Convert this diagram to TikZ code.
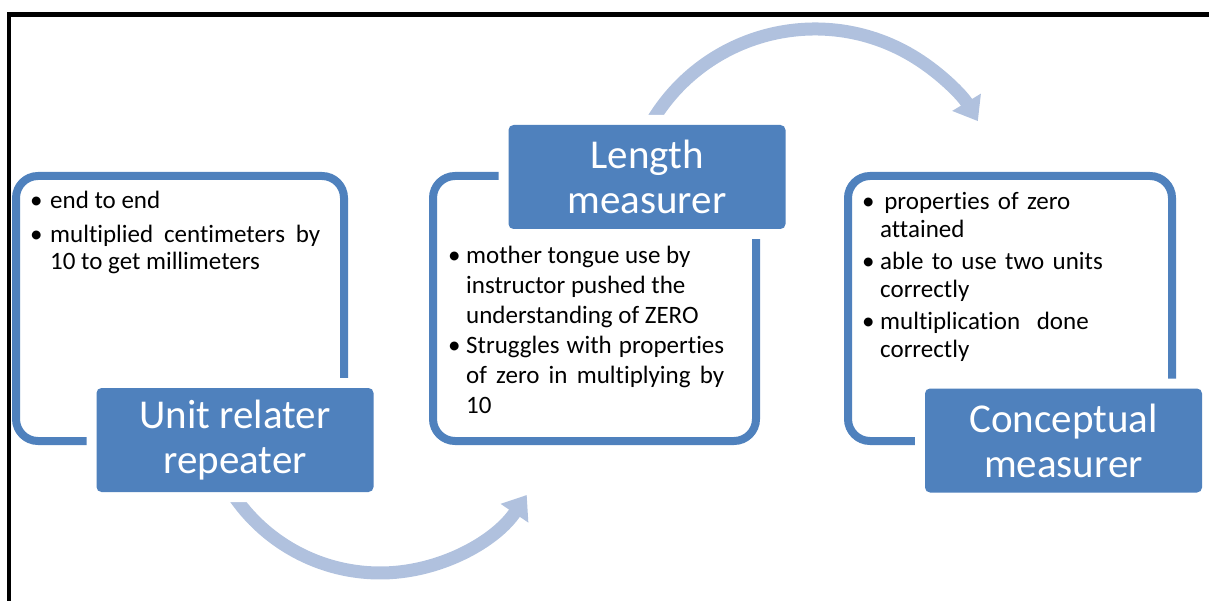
\documentclass[tikz,border=0pt]{standalone}
\usepackage{fontspec}
\setmainfont{Carlito}[Ligatures=NoCommon]
\usetikzlibrary{arrows.meta}
\definecolor{accent}{RGB}{79,129,189}
\definecolor{flow}{RGB}{176,193,222}
\newcommand\bul[1]{\hangindent=#1\hangafter=1\noindent\makebox[#1][l]{\textbullet}}
\tikzset{
  panel/.style={draw=accent, line width=8pt, fill=white, rounded corners=22pt, inner sep=0pt},
  tag/.style={fill=accent, rounded corners=5pt, minimum width=277pt, minimum height=104pt,
    inner sep=0pt, text=white, align=center, font=\fontsize{41}{45}\selectfont,
    preaction={draw=white, line width=20pt}},
  body/.style={anchor=base west, inner sep=0pt, align=justify, text=black},
  cyclearrow/.style={draw=flow, line width=13pt, -{Triangle[width=32pt,length=22pt]}},
  frame/.style={draw=black, line width=4.5pt}
}
\begin{document}
\begin{tikzpicture}[x=1pt,y=-1pt]
\useasboundingbox (0,0) rectangle (1209,601);
\draw[frame] (9,601) -- (9,14.5) -- (1209,14.5);

% panels
\node[panel, minimum width=328pt, minimum height=265pt] (p1) at (180,308.5) {};
\node[panel, minimum width=323pt, minimum height=265pt] (p2) at (594.5,308.5) {};
\node[panel, minimum width=324pt, minimum height=265pt] (p3) at (1010,308.5) {};

% cycle arrows
\coordinate (c1) at (380,396);
\coordinate (c2) at (815,219);
\draw[cyclearrow] ([shift={(145:177)}]c1) arc[start angle=145, end angle=34, radius=177];
\draw[cyclearrow] ([shift={(212:190)}]c2) arc[start angle=212, end angle=329, radius=190];

% body texts
\node[body, text width=290pt, font=\fontsize{25}{27}\selectfont] (t1) at (30,209) {%
  \setlength{\parskip}{7pt}%
  \bul{20pt}end to end\par
  \bul{20pt}multiplied centimeters by\linebreak 10 to get millimeters\par};
\node[body, text width=276pt, font=\fontsize{25}{30}\selectfont] (t2) at (448,264) {%
  \setlength{\parskip}{0pt}%
  \bul{18pt}mother tongue\ use by\newline instructor\ pushed the\newline understanding\ of ZERO\par
  \bul{18pt}Struggles with properties\linebreak of zero in multiplying by\linebreak 10\par};
\node[body, text width=260pt, align=left, font=\fontsize{25}{28}\selectfont] (t3) at (862,210) {%
  \setlength{\parskip}{4pt}%
  \bul{18pt}\,properties of zero\newline attained\par
  \bul{18pt}able to use two units\newline correctly\par
  \bul{18pt}multiplication\ \ done\newline correctly\par};

% labels
\node[tag] (l1) at (235,440) {Unit relater\\repeater};
\node[tag] (l2) at (647,177) {Length\\measurer};
\node[tag] (l3) at (1063.5,440.5) {Conceptual\\measurer};
\end{tikzpicture}
\end{document}
